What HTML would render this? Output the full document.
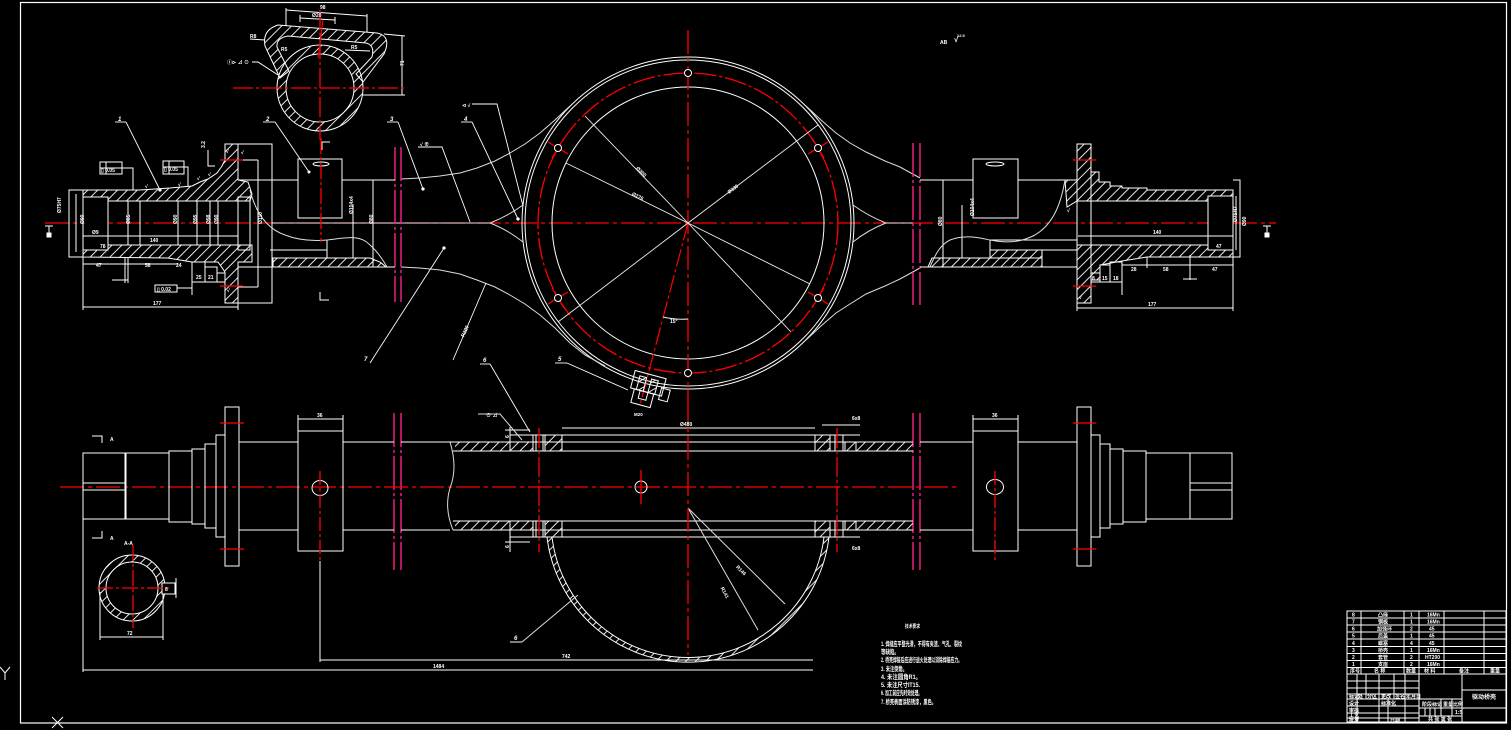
<!DOCTYPE html>
<html><head><meta charset="utf-8"><style>
html,body{margin:0;padding:0;background:#000;}
svg{display:block;}
text{font-family:"Liberation Sans","Noto Sans CJK SC",sans-serif;fill:#fff;}
</style></head><body>
<svg xmlns="http://www.w3.org/2000/svg" width="1511" height="730" viewBox="0 0 1511 730">
<defs>
<pattern id="h" patternUnits="userSpaceOnUse" width="7" height="7" patternTransform="rotate(45)"><line x1="0.5" y1="0" x2="0.5" y2="7" stroke="#fff" stroke-width="0.9"/></pattern>
</defs>
<rect width="1511" height="730" fill="#000"/>

<!-- frame -->
<rect x="20.5" y="2.5" width="1486" height="720.5" fill="none" stroke="#fff" stroke-width="1.2"/>
<g stroke="#fff" stroke-width="1" fill="none">
<polyline points="0,667 5,673 10,667"/><line x1="5" y1="673" x2="5" y2="680"/>
<line x1="52" y1="717" x2="63" y2="728"/><line x1="63" y1="717" x2="52" y2="728"/>
</g>

<!-- ===== TOP VIEW ===== -->
<!-- centerline -->
<line x1="45" y1="223" x2="1276" y2="223" stroke="#f00" stroke-width="1.3" stroke-dasharray="24 4 4 4"/>
<g stroke="#ddd" stroke-width="1" fill="none">
<line x1="272" y1="223" x2="490" y2="223"/>
<line x1="886" y1="223" x2="913" y2="223"/>
</g>

<!-- central housing circle -->
<g fill="none" stroke="#fff" stroke-width="1">
<circle cx="688" cy="223" r="166"/>
<circle cx="688" cy="223" r="163"/>
<circle cx="688" cy="223" r="136"/>
</g>
<circle cx="688" cy="223" r="150" fill="none" stroke="#f00" stroke-width="1.3" stroke-dasharray="22 3 3 3"/>
<line x1="688" y1="30" x2="688" y2="402" stroke="#f00" stroke-width="1.3" stroke-dasharray="24 4 4 4"/>
<line x1="688" y1="223" x2="640" y2="405" stroke="#f00" stroke-width="1.2" stroke-dasharray="18 3 3 3"/>
<g stroke="#f00" stroke-width="1.2">
<line x1="548" y1="142" x2="568" y2="154"/>
<line x1="828" y1="142" x2="808" y2="154"/>
<line x1="548" y1="304" x2="568" y2="292"/>
<line x1="828" y1="304" x2="808" y2="292"/>
<line x1="552" y1="158" x2="564" y2="138"/>
<line x1="824" y1="158" x2="812" y2="138"/>
<line x1="552" y1="288" x2="564" y2="308"/>
<line x1="824" y1="288" x2="812" y2="308"/>
</g>
<g fill="#000" stroke="#fff" stroke-width="1">
<circle cx="688" cy="73" r="3.5"/><circle cx="688" cy="373" r="3.5"/>
<circle cx="558" cy="148" r="3.5"/><circle cx="818" cy="148" r="3.5"/>
<circle cx="558" cy="298" r="3.5"/><circle cx="818" cy="298" r="3.5"/>
</g>
<g stroke="#eee" stroke-width="0.9" fill="none">
<line x1="688" y1="223" x2="585" y2="116"/>
<line x1="688" y1="223" x2="566" y2="163"/>
<line x1="688" y1="223" x2="818" y2="125"/>
<line x1="688" y1="223" x2="558" y2="322"/>
<line x1="688" y1="223" x2="810" y2="284"/>
<line x1="688" y1="223" x2="791" y2="332"/>
<path d="M663,317 Q676,320 688,319"/>
</g>
<g font-size="5" font-weight="bold">
<text x="636" y="172" transform="rotate(45 640 170)">Ø300</text>
<text x="632" y="197" transform="rotate(26 636 195)">Ø276</text>
<text x="727" y="192" transform="rotate(-37 731 190)">Ø330</text>
<text x="670" y="323">15°</text>
</g>

<!-- housing arms -->
<g fill="none" stroke="#ddd" stroke-width="1">
<polyline points="401,179 420,178 440,176 460,173 477,168 495,161 510,153 525,144 540,133 555,120 570,106"/>
<polyline points="401,267 420,268 440,270 460,274 477,280 495,287 510,295 525,304 540,315 555,328 570,343 585,355 605,366"/>
<polyline points="920,178 900,167 885,161 866,152 850,143 836,133 821,120 806,106"/>
<polyline points="920,268 900,279 885,286 866,294 850,304 836,313 821,326 806,340"/>
<path d="M490,223 Q508,216 523,205"/>
<path d="M490,223 Q508,230 523,242"/>
<path d="M886,223 Q868,216 853,205"/>
<path d="M886,223 Q868,230 853,242"/>
</g>

<!-- drain plug -->
<g transform="rotate(15 646 392)" fill="none" stroke="#fff" stroke-width="1">
<rect x="630" y="374" width="32" height="18"/>
<rect x="636" y="378" width="7" height="14" fill="url(#h)"/>
<rect x="648" y="378" width="7" height="14" fill="url(#h)"/>
<rect x="634" y="392" width="20" height="14"/>
<rect x="640" y="392" width="8" height="8"/>
<rect x="660" y="384" width="9" height="12"/>
</g>
<text x="634" y="416" font-size="4.5" font-weight="bold">M20</text>

<!-- pink break lines -->
<g stroke="#ff1e8c" stroke-width="1.4" stroke-dasharray="34 3 3 3">
<line x1="395" y1="147" x2="395" y2="302"/><line x1="401" y1="147" x2="401" y2="302"/>
<line x1="913" y1="143" x2="913" y2="305"/><line x1="920" y1="143" x2="920" y2="305"/>
<line x1="394" y1="413" x2="394" y2="570"/><line x1="401" y1="413" x2="401" y2="570"/>
<line x1="913" y1="413" x2="913" y2="570"/><line x1="920" y1="413" x2="920" y2="570"/>
</g>

<!-- LEFT END SECTION -->
<g fill="none" stroke="#fff" stroke-width="1">
<polygon fill="url(#h)" points="83,190 140,190 170,188 192,186 200,182 208,179 217,173 222,166 225,160 225,144 238,144 238,180 248,182 252,194 250,201 83,201"/>
<polygon fill="url(#h)" points="83,245 252,245 252,262 238,262 238,303 225,303 225,272 218,262 192,262 168,258 83,257"/>
<polyline points="83,190 69,190 69,257 83,257"/>
<line x1="76" y1="194" x2="76" y2="252"/>
<rect x="83" y="197" width="25" height="53" fill="#000"/>
<line x1="83" y1="236" x2="108" y2="236"/>
<line x1="128" y1="201" x2="128" y2="245"/>
<line x1="140" y1="201" x2="140" y2="245"/>
<line x1="178" y1="201" x2="178" y2="245"/>
<line x1="197" y1="201" x2="197" y2="245"/>
<line x1="210" y1="201" x2="210" y2="245"/>
<line x1="218" y1="201" x2="218" y2="245"/>
<line x1="108" y1="236" x2="238" y2="236"/>
<rect x="238" y="197" width="12" height="53"/>
<polyline points="225,144 272,144 272,303 225,303"/>
<line x1="258" y1="160" x2="258" y2="287"/>
<line x1="238" y1="160" x2="258" y2="160"/>
<line x1="238" y1="287" x2="258" y2="287"/>
<line x1="238" y1="180" x2="298" y2="180"/>
<line x1="342" y1="180" x2="395" y2="180"/>
<line x1="238" y1="267" x2="395" y2="267"/>
<polygon fill="url(#h)" points="273,258 370,258 380,262 386,267 273,267"/>
<line x1="270" y1="250" x2="327" y2="250"/>
<line x1="327" y1="240" x2="327" y2="258"/>
<line x1="373" y1="180" x2="373" y2="267"/>
<line x1="353" y1="204" x2="353" y2="258"/>
<rect x="298" y="159" width="44" height="59" fill="#000"/>
<ellipse cx="321" cy="164" rx="8" ry="2"/>
<circle cx="309" cy="172" r="1" fill="#fff"/>
<path d="M322,150 L322,142 L330,142"/>
<path d="M320,292 L320,300 L329,300"/>
<!-- dims -->
<polyline points="83,257 83,310"/>
<line x1="238" y1="303" x2="238" y2="310"/>
<line x1="83" y1="307" x2="238" y2="307"/>
<line x1="83" y1="264" x2="178" y2="264"/>
<line x1="125" y1="257" x2="125" y2="283"/>
<line x1="128" y1="257" x2="128" y2="283"/>
<line x1="112" y1="280" x2="128" y2="280"/>
<rect x="192" y="262" width="13" height="20"/>
<rect x="205" y="267" width="12" height="15"/>
<rect x="217" y="273" width="8" height="9"/>
<line x1="192" y1="282" x2="192" y2="295"/>
<rect x="100" y="162" width="22" height="12"/>
<line x1="100" y1="168" x2="122" y2="168"/><line x1="106" y1="162" x2="106" y2="174"/>
<polyline points="122,168 133,168 133,190"/>
<rect x="163" y="161" width="21" height="13"/>
<line x1="163" y1="167" x2="184" y2="167"/><line x1="169" y1="161" x2="169" y2="174"/>
<polyline points="184,167 188,167 188,186"/>
<rect x="155" y="285" width="22" height="7"/>
<line x1="177" y1="288" x2="192" y2="288"/>
<polyline points="208,150 208,166 215,166"/>
<line x1="45" y1="226" x2="53" y2="226"/><line x1="49" y1="226" x2="49" y2="236"/>
<rect x="47" y="233" width="4" height="4" fill="#fff"/>
</g>
<g stroke="#ddd" stroke-width="1" fill="none">
<path d="M250,190 C255,210 265,228 285,235 C300,241 315,241 327,240 C345,238 360,234 370,245 C378,252 383,260 387,267"/>
</g>
<line x1="321" y1="138" x2="321" y2="242" stroke="#f00" stroke-width="1.3" stroke-dasharray="16 3 3 3"/>
<g stroke="#f00" stroke-width="1.3">
<line x1="220" y1="160" x2="243" y2="160"/><line x1="220" y1="286" x2="243" y2="286"/>
</g>
<g font-size="5" font-weight="bold">
<text x="92" y="234">Ø9</text>
<text x="100" y="248">78</text>
<text x="150" y="242">140</text>
<text x="96" y="267">47</text>
<text x="145" y="267">58</text>
<text x="176" y="267">24</text>
<text x="153" y="305">177</text>
<text x="101" y="172">▯ 0.05</text>
<text x="164" y="171">▯ 0.05</text>
<text x="157" y="291">▯ 0.02</text>
<text x="52" y="216" transform="rotate(-90 55 210)">Ø75H7</text>
<text x="78" y="226" transform="rotate(-90 80 222)">Ø90</text>
<text x="124" y="226" transform="rotate(-90 126 222)">Ø85</text>
<text x="171" y="226" transform="rotate(-90 173 222)">Ø90</text>
<text x="191" y="226" transform="rotate(-90 193 222)">Ø95</text>
<text x="204" y="226" transform="rotate(-90 206 222)">Ø98</text>
<text x="212" y="226" transform="rotate(-90 214 222)">Ø90</text>
<text x="256" y="226" transform="rotate(-90 258 222)">Ø110</text>
<text x="345" y="218" transform="rotate(-90 347 212)">Ø104x4</text>
<text x="368" y="225" transform="rotate(-90 370 222)">Ø80</text>
<text x="145" y="188">√</text><text x="178" y="186">√</text><text x="197" y="180">√</text><text x="208" y="176">√</text>
<text x="199" y="150" transform="rotate(-90 201 146)">3.2</text>
<text x="226" y="153">√</text><text x="241" y="154">√</text>
<text x="227" y="292">√</text>
<text x="196" y="279">25</text><text x="208" y="279">21</text>
</g>

<!-- RIGHT END SECTION -->
<g fill="none" stroke="#fff" stroke-width="1">
<polygon fill="url(#h)" points="1065,180 1077,180 1077,144 1091,144 1091,172 1099,172 1099,182 1110,182 1110,186 1122,186 1122,188 1147,188 1147,190 1233,190 1233,196 1208,196 1208,201 1077,201 1067,207"/>
<polygon fill="url(#h)" points="1077,245 1208,245 1208,250 1233,250 1233,257 1147,257 1122,261 1100,265 1100,280 1091,280 1091,303 1077,303"/>
<rect x="1077" y="144" width="14" height="159"/>
<rect x="1208" y="196" width="25" height="54" fill="#000"/>
<line x1="1208" y1="236" x2="1233" y2="236"/>
<line x1="1078" y1="236" x2="1208" y2="236"/>
<polyline points="1233,180 1240,180 1240,257 1233,257"/>
<line x1="1236" y1="196" x2="1236" y2="250"/>
<line x1="920" y1="180" x2="973" y2="180"/>
<line x1="1018" y1="180" x2="1077" y2="180"/>
<line x1="920" y1="267" x2="1077" y2="267"/>
<polygon fill="url(#h)" points="932,258 1042,258 1042,250 990,250 990,258 1042,258 1042,267 928,267"/>
<line x1="990" y1="240" x2="990" y2="258"/>
<line x1="990" y1="240" x2="1077" y2="240"/>
<line x1="990" y1="250" x2="1077" y2="250"/>
<line x1="943" y1="180" x2="943" y2="267"/>
<line x1="962" y1="205" x2="962" y2="258"/>
<rect x="973" y="159" width="45" height="59" fill="#000"/>
<ellipse cx="995" cy="164" rx="9" ry="2"/>
<line x1="1233" y1="257" x2="1233" y2="311"/>
<line x1="1077" y1="303" x2="1077" y2="311"/>
<line x1="1077" y1="308" x2="1233" y2="308"/>
<line x1="1122" y1="265" x2="1233" y2="265"/>
<line x1="1147" y1="257" x2="1147" y2="268"/>
<rect x="1091" y="273" width="9" height="9"/>
<rect x="1100" y="265" width="10" height="17"/>
<rect x="1110" y="262" width="12" height="20"/>
<line x1="1122" y1="262" x2="1122" y2="295"/>
<line x1="1190" y1="255" x2="1190" y2="280"/>
<line x1="1183" y1="279" x2="1197" y2="279"/>
<line x1="1263" y1="226" x2="1271" y2="226"/><line x1="1267" y1="226" x2="1267" y2="236"/>
<rect x="1265" y="233" width="4" height="4" fill="#fff"/>
</g>
<g stroke="#ddd" stroke-width="1" fill="none">
<path d="M930,267 C935,255 940,245 950,240 C965,234 980,238 990,240 C1005,243 1020,243 1035,235 C1050,226 1060,210 1065,180"/>
</g>
<g stroke="#f00" stroke-width="1.3">
<line x1="1073" y1="160" x2="1096" y2="160"/><line x1="1073" y1="286" x2="1096" y2="286"/>
</g>
<g font-size="5" font-weight="bold">
<text x="1153" y="234">140</text>
<text x="1216" y="248">47</text>
<text x="1131" y="271">28</text>
<text x="1163" y="271">58</text>
<text x="1212" y="271">47</text>
<text x="1148" y="306">177</text>
<text x="1092" y="280">8</text><text x="1102" y="280">15</text><text x="1113" y="280">18</text>
<text x="1229" y="226" transform="rotate(-90 1231 220)">Ø75H7</text>
<text x="1240" y="228" transform="rotate(-90 1242 224)">Ø90</text>
<text x="936" y="228" transform="rotate(-90 938 224)">Ø80</text>
<text x="966" y="220" transform="rotate(-90 968 214)">Ø104x4</text>
<text x="1067" y="212">√</text>
<text x="1079" y="299">√</text>
</g>

<!-- top-left cross section -->
<g fill="none" stroke="#fff" stroke-width="1">
<path fill="url(#h)" fill-rule="evenodd" d="M363,88 A43,43 0 1 1 277,88 A43,43 0 1 1 363,88 Z M354,88 A34,34 0 1 0 286,88 A34,34 0 1 0 354,88 Z"/>
<path fill="url(#h)" d="M280,78 L265,46 Q262,30 278,25 L377,33 Q392,36 384,54 L363,82 L356,74 L372,57 Q375,45 366,43 L288,36 Q276,38 277,47 L289,71 Z"/>
<line x1="286" y1="26" x2="286" y2="8"/><line x1="367" y1="32" x2="367" y2="14"/>
<line x1="286" y1="10" x2="367" y2="16"/>
<line x1="300" y1="22" x2="300" y2="15"/><line x1="335" y1="24" x2="335" y2="17"/>
<line x1="300" y1="18" x2="335" y2="20"/>
<line x1="384" y1="34" x2="405" y2="36"/><line x1="362" y1="95" x2="405" y2="95"/>
<line x1="402" y1="36" x2="402" y2="95"/>
<polyline points="252,62 258,62 278,75"/>
<line x1="250" y1="39" x2="265" y2="40"/>
<line x1="345" y1="50" x2="370" y2="51"/>
</g>
<line x1="233" y1="88" x2="407" y2="88" stroke="#f00" stroke-width="1.3" stroke-dasharray="20 3 3 3"/>
<line x1="320" y1="10" x2="320" y2="140" stroke="#f00" stroke-width="1.3" stroke-dasharray="20 3 3 3"/>
<line x1="323" y1="20" x2="318" y2="58" stroke="#f00" stroke-width="1"/>
<g font-size="5" font-weight="bold">
<text x="320" y="9">98</text>
<text x="312" y="17">Ø20</text>
<text x="398" y="68" transform="rotate(-90 400 64)">71</text>
<text x="250" y="38">R8</text>
<text x="351" y="49">R5</text>
<text x="281" y="51">R5</text>
<text x="227" y="64">Ⓘ⊳ ⊿ ⊙</text>
</g>

<!-- leaders and labels top -->
<g fill="none" stroke="#fff" stroke-width="0.9">
<line x1="115" y1="122" x2="126" y2="122"/><line x1="126" y1="122" x2="160" y2="190"/>
<line x1="263" y1="122" x2="275" y2="122"/><line x1="275" y1="122" x2="309" y2="172"/>
<line x1="387" y1="122" x2="398" y2="122"/><line x1="398" y1="122" x2="423" y2="189"/>
<line x1="461" y1="122" x2="472" y2="122"/><line x1="472" y1="122" x2="518" y2="219"/>
<polyline points="472,104 497,104 523,206"/>
<polyline points="418,147 442,147 470,222"/>
<line x1="370" y1="363" x2="444" y2="248"/>
<line x1="453" y1="360" x2="486" y2="283"/>
<line x1="480" y1="364" x2="490" y2="364"/><line x1="490" y1="364" x2="530" y2="432"/>
<line x1="555" y1="363" x2="567" y2="363"/><line x1="567" y1="363" x2="628" y2="390"/>
<circle cx="423" cy="189" r="1.2" fill="#fff"/><circle cx="444" cy="248" r="1.2" fill="#fff"/>
<circle cx="518" cy="219" r="1.2" fill="#fff"/><circle cx="160" cy="190" r="1.2" fill="#fff"/>
</g>
<g font-size="6" font-weight="bold" font-style="italic">
<text x="118" y="121">1</text>
<text x="266" y="121">2</text>
<text x="390" y="121">3</text>
<text x="464" y="121">4</text>
<text x="364" y="361">7</text>
<text x="483" y="362">6</text>
<text x="558" y="361">5</text>
</g>
<g font-size="5" font-weight="bold">
<text x="462" y="107">⊲ √</text>
<text x="420" y="146">√ ⊕</text>
<text x="458" y="336" transform="rotate(-65 462 332)">R220</text>
<text x="940" y="44">AB</text><text x="954" y="42" font-size="8">√</text>
<text x="957" y="37" font-size="4">12.5</text>
</g>

<!-- ===== FRONT VIEW ===== -->
<line x1="60" y1="487" x2="956" y2="487" stroke="#f00" stroke-width="1.3" stroke-dasharray="24 4 4 4"/>
<g fill="none" stroke="#fff" stroke-width="1">
<!-- left end -->
<rect x="83" y="453" width="42" height="66"/>
<line x1="83" y1="483" x2="125" y2="483"/><line x1="83" y1="490" x2="125" y2="490"/>
<rect x="126" y="453" width="43" height="66"/>
<rect x="169" y="451" width="23" height="71"/>
<rect x="192" y="449" width="13" height="75"/>
<rect x="205" y="444" width="11" height="84"/>
<rect x="216" y="435" width="9" height="102"/>
<rect x="225" y="407" width="14" height="159"/>
<line x1="239" y1="442" x2="298" y2="442"/><line x1="239" y1="530" x2="298" y2="530"/>
<rect x="298" y="431" width="45" height="120"/>
<line x1="298" y1="419" x2="343" y2="419"/><line x1="298" y1="415" x2="298" y2="431"/><line x1="343" y1="415" x2="343" y2="431"/>
<ellipse cx="320" cy="488" rx="8" ry="7.5"/>
<line x1="343" y1="442" x2="394" y2="442"/><line x1="343" y1="530" x2="394" y2="530"/>
<line x1="401" y1="442" x2="450" y2="442"/><line x1="401" y1="530" x2="450" y2="530"/>
<path d="M450,442 Q458,468 450,488 Q444,508 453,530" stroke="#ddd"/>
<!-- center tube -->
<line x1="450" y1="442" x2="913" y2="442"/><line x1="453" y1="451" x2="913" y2="451"/>
<line x1="453" y1="521" x2="913" y2="521"/><line x1="453" y1="530" x2="913" y2="530"/>
<rect x="455" y="442" width="55" height="9" fill="url(#h)" stroke="none"/>
<rect x="455" y="521" width="55" height="9" fill="url(#h)" stroke="none"/>
<rect x="856" y="442" width="57" height="9" fill="url(#h)" stroke="none"/>
<rect x="856" y="521" width="57" height="9" fill="url(#h)" stroke="none"/>
<polygon fill="url(#h)" points="510,442 533,442 533,451 510,451"/>
<polygon fill="url(#h)" points="545,435 562,435 562,451 545,451"/>
<polygon fill="url(#h)" points="815,435 830,435 830,451 815,451"/>
<polygon fill="url(#h)" points="845,442 856,442 856,451 845,451"/>
<polygon fill="url(#h)" points="510,521 533,521 533,530 510,530"/>
<polygon fill="url(#h)" points="545,521 562,521 562,537 545,537"/>
<polygon fill="url(#h)" points="815,521 830,521 830,537 815,537"/>
<polygon fill="url(#h)" points="845,521 856,521 856,530 845,530"/>
<line x1="510" y1="435" x2="860" y2="435"/>
<line x1="510" y1="537" x2="860" y2="537"/>
<line x1="533" y1="435" x2="533" y2="451"/><line x1="536" y1="435" x2="536" y2="451"/><line x1="543" y1="435" x2="543" y2="451"/>
<line x1="533" y1="521" x2="533" y2="537"/><line x1="536" y1="521" x2="536" y2="537"/><line x1="543" y1="521" x2="543" y2="537"/>
<line x1="562" y1="435" x2="562" y2="451"/><line x1="815" y1="435" x2="815" y2="451"/>
<line x1="562" y1="521" x2="562" y2="537"/><line x1="815" y1="521" x2="815" y2="537"/>
<line x1="835" y1="435" x2="835" y2="451"/><line x1="843" y1="435" x2="843" y2="451"/>
<line x1="835" y1="521" x2="835" y2="537"/><line x1="843" y1="521" x2="843" y2="537"/>
<line x1="562" y1="428" x2="815" y2="428"/>
<line x1="822" y1="425" x2="860" y2="425"/>
<line x1="505" y1="430" x2="530" y2="430"/><line x1="505" y1="542" x2="530" y2="542"/>
<line x1="510" y1="427" x2="510" y2="448"/><line x1="510" y1="530" x2="510" y2="552"/>
<circle cx="641" cy="487" r="6"/>
<!-- bowl -->
<path d="M547,537 A142,142 0 0 0 829,537 L824,537 A137,137 0 0 1 552,537 Z" fill="url(#h)"/>
<line x1="688" y1="508" x2="758" y2="630" stroke="#ddd"/>
<line x1="688" y1="508" x2="785" y2="604" stroke="#ddd"/>
<line x1="578" y1="595" x2="522" y2="642" stroke="#ddd"/>
<line x1="510" y1="642" x2="522" y2="642"/>
<polyline points="478,414 500,414 522,440" stroke="#ddd"/>
<!-- right -->
<line x1="920" y1="442" x2="973" y2="442"/><line x1="920" y1="530" x2="973" y2="530"/>
<rect x="973" y="431" width="45" height="120"/>
<line x1="973" y1="419" x2="1018" y2="419"/><line x1="973" y1="415" x2="973" y2="431"/><line x1="1018" y1="415" x2="1018" y2="431"/>
<ellipse cx="995" cy="487" rx="8.5" ry="7.5"/>
<line x1="1018" y1="442" x2="1077" y2="442"/><line x1="1018" y1="530" x2="1077" y2="530"/>
<rect x="1077" y="407" width="14" height="159"/>
<rect x="1091" y="435" width="9" height="102"/>
<rect x="1100" y="444" width="10" height="84"/>
<rect x="1110" y="449" width="13" height="75"/>
<rect x="1123" y="451" width="23" height="71"/>
<rect x="1146" y="453" width="44" height="66"/>
<rect x="1190" y="453" width="42" height="66"/>
<line x1="1190" y1="483" x2="1232" y2="483"/><line x1="1190" y1="490" x2="1232" y2="490"/>
<!-- dims -->
<line x1="83" y1="519" x2="83" y2="672"/>
<line x1="83" y1="670" x2="813" y2="670"/>
<line x1="320" y1="561" x2="320" y2="662"/>
<line x1="320" y1="660" x2="813" y2="660"/>
<!-- section marks -->
<polyline points="92,436 102,436 102,443"/>
<polyline points="92,538 102,538 102,531"/>
<!-- A-A section -->
<path fill="url(#h)" fill-rule="evenodd" d="M165,588 A33,33 0 1 1 99,588 A33,33 0 1 1 165,588 Z M158,588 A26,26 0 1 0 106,588 A26,26 0 1 0 158,588 Z"/>
<rect x="162" y="583" width="13" height="11" fill="#000"/>
<line x1="176" y1="578" x2="176" y2="598"/>
<line x1="100" y1="592" x2="100" y2="640"/><line x1="163" y1="594" x2="163" y2="640"/>
<line x1="100" y1="637" x2="163" y2="637"/>
</g>
<g stroke="#f00" stroke-width="1.3">
<line x1="320" y1="471" x2="320" y2="561" stroke-dasharray="14 3 3 3"/>
<line x1="995" y1="471" x2="995" y2="561" stroke-dasharray="14 3 3 3"/>
<line x1="539" y1="428" x2="539" y2="552" stroke-dasharray="20 3 3 3"/>
<line x1="837" y1="428" x2="837" y2="552" stroke-dasharray="20 3 3 3"/>
<line x1="688" y1="400" x2="688" y2="655" stroke-dasharray="24 4 4 4"/>
<line x1="641" y1="470" x2="641" y2="504"/>
<line x1="220" y1="423" x2="244" y2="423"/><line x1="220" y1="549" x2="244" y2="549"/>
<line x1="1073" y1="423" x2="1096" y2="423"/><line x1="1073" y1="549" x2="1096" y2="549"/>
<line x1="97" y1="588" x2="172" y2="588" stroke-dasharray="16 3 3 3"/>
<line x1="133" y1="545" x2="133" y2="628" stroke-dasharray="16 3 3 3"/>
</g>
<g font-size="5" font-weight="bold">
<text x="317" y="417">36</text>
<text x="992" y="417">36</text>
<text x="680" y="426">Ø480</text>
<text x="852" y="420">6x8</text>
<text x="433" y="668">1484</text>
<text x="562" y="658">742</text>
<text x="127" y="635">72</text>
<text x="165" y="591">8</text>
<text x="110" y="441">A</text>
<text x="110" y="540">A</text>
<text x="124" y="545">A-A</text>
<text x="723" y="592" transform="rotate(62 725 588)">R141</text>
<text x="738" y="570" transform="rotate(45 740 566)">R146</text>
<text x="486" y="417">⊙ ⊿</text>
<text x="503" y="440" transform="rotate(-90 505 436)">6</text>
<text x="503" y="550" transform="rotate(-90 505 546)">6</text>
<text x="852" y="550">6x8</text>
</g>
<text x="514" y="640" font-size="6" font-weight="bold" font-style="italic">6</text>

<!-- technical requirements -->
<g font-size="6.5" font-weight="bold">
<text x="905" y="628" font-size="5" textLength="15" lengthAdjust="spacingAndGlyphs">技术要求</text>
<text x="881" y="646" textLength="81" lengthAdjust="spacingAndGlyphs">1. 焊缝应平整光滑，不得有夹渣、气孔、裂纹</text>
<text x="881" y="654" textLength="18" lengthAdjust="spacingAndGlyphs">等缺陷。</text>
<text x="881" y="662" textLength="81" lengthAdjust="spacingAndGlyphs">2. 桥壳焊接后应进行退火处理以消除焊接应力。</text>
<text x="881" y="671" textLength="26" lengthAdjust="spacingAndGlyphs">3. 未注倒角。</text>
<text x="881" y="679" textLength="40" lengthAdjust="spacingAndGlyphs">4. 未注圆角R1。</text>
<text x="881" y="687" textLength="39" lengthAdjust="spacingAndGlyphs">5. 未注尺寸IT15.</text>
<text x="881" y="695" textLength="41" lengthAdjust="spacingAndGlyphs">6. 加工前应先时效处理。</text>
<text x="881" y="704" textLength="55" lengthAdjust="spacingAndGlyphs">7. 桥壳表面涂防锈漆，黑色。</text>
</g>

<!-- title block -->
<g fill="none" stroke="#fff" stroke-width="1">
<rect x="1347" y="611" width="159" height="111"/>
<line x1="1347" y1="618" x2="1506" y2="618"/>
<line x1="1347" y1="625" x2="1506" y2="625"/>
<line x1="1347" y1="632" x2="1506" y2="632"/>
<line x1="1347" y1="639" x2="1506" y2="639"/>
<line x1="1347" y1="646.5" x2="1506" y2="646.5"/>
<line x1="1347" y1="653.5" x2="1506" y2="653.5"/>
<line x1="1347" y1="660.5" x2="1506" y2="660.5"/>
<line x1="1347" y1="667.5" x2="1506" y2="667.5"/>
<line x1="1347" y1="674" x2="1506" y2="674"/>
<line x1="1361" y1="611" x2="1361" y2="674"/>
<line x1="1404" y1="611" x2="1404" y2="674"/>
<line x1="1419" y1="611" x2="1419" y2="722"/>
<line x1="1444" y1="611" x2="1444" y2="674"/>
<line x1="1484" y1="611" x2="1484" y2="674"/>
<line x1="1462" y1="674" x2="1462" y2="722"/>
<line x1="1462" y1="690" x2="1506" y2="690"/>
<line x1="1462" y1="708" x2="1506" y2="708"/>
<line x1="1347" y1="681" x2="1419" y2="681"/>
<line x1="1347" y1="688" x2="1419" y2="688"/>
<line x1="1347" y1="694" x2="1419" y2="694"/>
<line x1="1347" y1="699" x2="1419" y2="699"/>
<line x1="1347" y1="706" x2="1419" y2="706"/>
<line x1="1347" y1="713" x2="1419" y2="713"/>
<line x1="1347" y1="718" x2="1419" y2="718"/>
<line x1="1357" y1="674" x2="1357" y2="722"/>
<line x1="1366" y1="674" x2="1366" y2="699"/>
<line x1="1379" y1="674" x2="1379" y2="722"/>
<line x1="1394" y1="674" x2="1394" y2="699"/>
<line x1="1405" y1="674" x2="1405" y2="722"/>
<line x1="1388" y1="699" x2="1388" y2="722"/>
<line x1="1419" y1="699" x2="1462" y2="699"/>
<line x1="1419" y1="708" x2="1462" y2="708"/>
<line x1="1419" y1="716" x2="1462" y2="716"/>
<line x1="1441" y1="699" x2="1441" y2="716"/>
<line x1="1452" y1="699" x2="1452" y2="716"/>
<line x1="1425" y1="708" x2="1425" y2="716"/>
<line x1="1430" y1="708" x2="1430" y2="716"/>
<line x1="1435" y1="708" x2="1435" y2="716"/>
</g>
<g font-size="5" font-weight="bold">
<text x="1352" y="616.5">8</text><text x="1378" y="616.5">凸缘</text><text x="1410" y="616.5">1</text><text x="1427" y="616.5">16Mn</text>
<text x="1352" y="623.5">7</text><text x="1378" y="623.5">钢板</text><text x="1410" y="623.5">1</text><text x="1427" y="623.5">16Mn</text>
<text x="1352" y="630.5">6</text><text x="1377" y="630.5">加强环</text><text x="1410" y="630.5">2</text><text x="1429" y="630.5">45</text>
<text x="1352" y="637.5">5</text><text x="1378" y="637.5">后盖</text><text x="1410" y="637.5">1</text><text x="1429" y="637.5">45</text>
<text x="1352" y="645">4</text><text x="1378" y="645">螺塞</text><text x="1410" y="645">4</text><text x="1429" y="645">45</text>
<text x="1352" y="652">3</text><text x="1378" y="652">桥壳</text><text x="1410" y="652">1</text><text x="1427" y="652">16Mn</text>
<text x="1352" y="659">2</text><text x="1378" y="659">套管</text><text x="1410" y="659">2</text><text x="1425" y="659">HT200</text>
<text x="1352" y="666">1</text><text x="1378" y="666">支座</text><text x="1410" y="666">2</text><text x="1427" y="666">16Mn</text>
<text x="1350" y="672.5">序号</text><text x="1374" y="672.5">名 称</text><text x="1406" y="672.5">数量</text><text x="1424" y="672.5">材 料</text><text x="1459" y="672.5">备注</text><text x="1490" y="672.5">重量</text>
<text x="1349" y="698">标记</text><text x="1358" y="698">处</text><text x="1367" y="698">分区</text><text x="1381" y="698">更改</text><text x="1395" y="698">签名</text><text x="1406" y="698">年月日</text>
<text x="1349" y="705">设计</text><text x="1381" y="705">标准化</text>
<text x="1349" y="712">审核</text>
<text x="1349" y="717">工艺</text>
<text x="1349" y="722">批准</text><text x="1390" y="722">日期</text>
<text x="1422" y="706">阶段标记</text><text x="1443" y="706">重量</text><text x="1453" y="706">比例</text>
<text x="1455" y="714">1:5</text>
<text x="1428" y="721">共 张 第 张</text>
<text x="1472" y="699" font-size="6">驱动桥壳</text>
</g>
</svg>
</body></html>
